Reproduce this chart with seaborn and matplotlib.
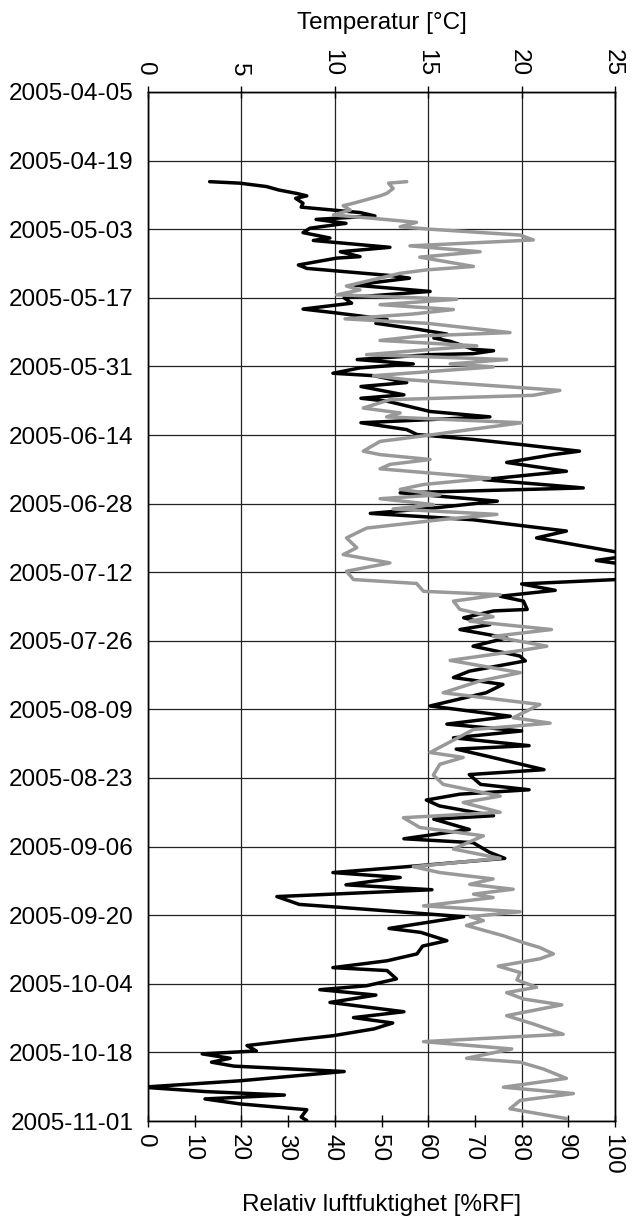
import numpy as np
import pandas as pd
import matplotlib
matplotlib.use("Agg")
import matplotlib.pyplot as plt
import matplotlib.dates as mdates
from matplotlib.ticker import MultipleLocator
import seaborn as sns

# Period covered by the date axis
start = pd.Timestamp("2005-04-05")
end = pd.Timestamp("2005-11-01")

# Temperature series: days after 2005-04-05 and temperature in degrees C
temp_day = [18.3, 18.6, 19.3, 20.0, 20.7, 21.2, 21.7, 22.7, 23.5, 24.1, 24.6, 25.3,
            26.0, 26.8, 27.8, 28.7, 29.8, 30.3, 31.7, 32.6, 33.6, 33.9, 35.3, 36.0,
            37.5, 38.0, 39.4, 40.7, 42.0, 43.1, 44.3, 45.1, 45.7, 46.4, 47.2, 48.4,
            49.4, 50.2, 50.9, 52.5, 52.8, 53.4, 53.6, 54.6, 55.5, 56.3, 57.4, 57.9,
            59.3, 60.1, 61.8, 62.5, 63.1, 65.2, 66.3, 67.5, 68.9, 69.9, 70.9, 72.0,
            73.3, 74.0, 75.6, 77.4, 79.1, 80.8, 81.8, 83.5, 84.9, 86.0, 87.3, 89.6,
            91.0, 94.5, 95.6, 96.8, 99.3, 100.4, 101.7, 102.9, 103.9, 105.6, 105.9,
            107.3, 108.7, 109.7, 111.4, 113.1, 115.1, 116.1, 118.2, 119.5, 120.9,
            122.6, 125.3, 127.4, 129.0, 130.4, 131.8, 133.4, 134.1, 135.5, 138.3,
            139.3, 141.3, 142.4, 143.3, 144.5, 145.7, 147.7, 148.4, 150.5, 152.4,
            153.2, 155.2, 156.4, 158.1, 159.3, 160.3, 161.8, 162.8, 164.2, 165.8,
            166.4, 168.3, 169.5, 170.7, 171.5, 173.2, 174.3, 175.9, 177.3, 178.7,
            179.3, 181.0, 182.4, 183.2, 184.3, 185.8, 187.7, 188.9, 190.0, 191.2,
            192.6, 193.4, 194.6, 195.7, 196.3, 197.2, 198.0, 198.8, 199.9, 201.8,
            203.1, 204.0, 204.7, 205.5, 206.5, 207.7, 209.2, 209.9]
temp_c = [3.3, 4.9, 6.35, 7.0, 7.96, 8.5, 7.9, 8.3, 8.2, 9.9, 11.35, 12.15,
          9.0, 10.6, 8.67, 8.3, 9.74, 8.85, 12.95, 10.3, 11.35, 10.1, 8.05, 8.5,
          13.1, 14.0, 11.0, 15.1, 10.5, 10.9, 8.3, 10.1, 11.35, 12.8, 12.2, 14.4,
          16.0, 15.3, 16.2, 17.4, 18.5, 17.4, 15.1, 11.2, 14.2, 11.35, 9.9, 12.1,
          13.85, 11.4, 13.7, 11.4, 12.8, 15.1, 18.3, 11.4, 13.85, 14.4, 17.4, 20.1,
          23.1, 21.7, 19.2, 22.4, 17.95, 23.3, 13.5, 18.7, 15.3, 11.9, 17.4, 22.4,
          20.8, 26.0, 24.0, 26.2, 26.2, 20.0, 21.8, 18.85, 20.1, 20.3, 18.5,
          16.9, 18.3, 16.7, 19.2, 17.4, 19.9, 20.2, 17.2, 16.35, 19.0,
          18.1, 15.1, 19.4, 16.0, 20.0, 16.35, 20.4, 16.5, 18.1, 21.2,
          17.2, 17.8, 20.4, 16.7, 14.9, 15.6, 18.5, 15.3, 17.2, 13.7,
          17.4, 18.3, 19.1, 13.85, 9.9, 13.5, 10.6, 15.2, 6.9, 8.1,
          10.3, 16.9, 14.9, 12.9, 14.6, 16.0, 14.7, 14.4, 12.8, 9.9,
          12.8, 13.3, 11.7, 9.2, 12.2, 9.74, 13.7, 11.0, 13.1, 12.1,
          9.9, 8.0, 5.3, 5.8, 2.9, 4.4, 3.4, 4.6, 10.5, 4.9,
          -0.3, 3.1, 7.3, 3.05, 4.9, 8.5, 8.2, 8.5]

# Relative humidity series: days after 2005-04-05 and %RF
rh_day = [18.3, 18.6, 19.7, 20.7, 21.2, 22.7, 23.2, 24.1, 25.1, 25.8, 26.6, 27.5,
          28.0, 29.2, 30.2, 31.4, 32.6, 33.7, 35.6, 36.3, 37.0, 39.6, 40.4, 41.4,
          42.3, 43.4, 44.4, 45.3, 46.3, 47.2, 49.1, 49.8, 50.7, 51.8, 53.6, 54.6,
          55.5, 56.1, 57.9, 58.7, 60.9, 61.9, 62.8, 64.5, 65.5, 66.3, 67.5, 68.8,
          70.1, 71.3, 73.3, 74.0, 75.0, 76.0, 76.9, 78.8, 80.1, 81.1, 82.2, 83.0,
          84.2, 85.1, 86.2, 87.3, 89.0, 91.0, 93.0, 94.4, 96.1, 97.8, 99.5, 100.3,
          101.9, 102.6, 103.9, 105.6, 107.1, 108.0, 109.7, 111.1, 113.1, 114.0,
          116.0, 118.5, 120.2, 122.6, 125.0, 127.7, 128.8, 130.1, 133.4, 134.8,
          135.8, 137.2, 139.4, 141.3, 143.7, 145.0, 147.0, 148.1, 150.1, 151.8,
          154.5, 156.4, 158.1, 159.3, 160.6, 161.7, 162.7, 163.7, 164.4, 166.1,
          167.3, 168.3, 169.1, 170.1, 172.2, 173.6, 174.6, 175.9, 176.9, 178.4,
          179.7, 181.2, 182.7, 183.8, 185.1, 186.3, 188.5, 190.2, 192.3, 193.8,
          195.3, 197.2, 198.0, 199.4, 201.3, 203.1, 204.4, 205.8, 207.5, 209.5]
rh_pct = [55.4, 51.5, 52.5, 51.1, 49.7, 44.0, 41.8, 43.3, 39.7, 48.3, 57.5, 54.0,
          60.4, 79.7, 82.5, 56.1, 71.1, 58.2, 69.7, 59.7, 54.0, 42.5, 45.4, 40.4,
          66.1, 49.7, 65.4, 56.8, 42.2, 59.7, 77.5, 58.2, 49.7, 70.4, 46.8, 76.8,
          64.7, 73.9, 48.3, 55.4, 88.2, 82.5, 51.8, 46.1, 54.0, 51.1, 80.0, 69.7,
          59.7, 49.7, 46.1, 49.7, 60.4, 51.8, 49.7, 73.2, 59.0, 54.0, 62.5, 49.7,
          61.1, 52.5, 74.7, 62.5, 46.8, 42.5, 44.7, 41.8, 51.8, 42.5, 44.0, 57.5,
          59.0, 75.4, 65.4, 66.8, 73.9, 68.9, 86.4, 73.9, 85.4, 79.7,
          64.7, 79.7, 71.1, 63.2, 83.9, 78.2, 86.1, 69.7, 63.2, 60.4,
          67.5, 62.5, 61.1, 63.2, 75.4, 67.5, 75.4, 54.7, 58.2, 71.8,
          65.4, 75.4, 56.8, 62.5, 73.9, 68.9, 78.2, 69.7, 73.9, 59.0,
          79.7, 69.0, 71.8, 68.2, 76.1, 80.4, 83.9, 86.8, 83.9, 75.0,
          79.7, 79.0, 83.2, 76.8, 80.4, 88.6, 76.8, 82.5, 88.9, 59.0,
          77.9, 68.2, 79.7, 84.7, 89.6, 76.1, 91.1, 79.7, 77.5, 89.6]

temp_df = pd.DataFrame({"time": start + pd.to_timedelta(temp_day, unit="D"),
                        "temp": temp_c})
rh_df = pd.DataFrame({"time": start + pd.to_timedelta(rh_day, unit="D"),
                      "rh": rh_pct})

sns.set_style("white")
plt.rcParams["font.family"] = ["Liberation Sans", "DejaVu Sans"]
plt.rcParams["font.size"] = 17.5
plt.rcParams["text.color"] = "black"
plt.rcParams["axes.labelcolor"] = "black"
plt.rcParams["xtick.color"] = "black"
plt.rcParams["ytick.color"] = "black"

fig = plt.figure(figsize=(6.36, 12.22), dpi=100)
ax = fig.add_axes([148 / 636, 1 - 1121 / 1222, (615 - 148) / 636, (1121 - 92) / 1222])

# Temperature against the top axis
sns.lineplot(data=temp_df, x="temp", y="time", orient="y", sort=False,
             estimator=None, color="black", linewidth=2.5, ax=ax)
ax.set_xlim(0, 25)
ax.xaxis.set_major_locator(MultipleLocator(5))
ax.set_ylabel("")

# Date axis, increasing downwards
ax.set_ylim(end, start)
ax.set_yticks(pd.date_range(start, end, freq="14D"))
ax.yaxis.set_major_formatter(mdates.DateFormatter("%Y-%m-%d"))

ax.grid(True, color="#222222", linewidth=0.9)
ax.set_axisbelow(True)

# Relative humidity against the bottom axis
ax2 = ax.twiny()
sns.lineplot(data=rh_df, x="rh", y="time", orient="y", sort=False,
             estimator=None, color="#999999", linewidth=2.5, ax=ax2)
ax2.set_xlim(0, 100)
ax2.xaxis.set_major_locator(MultipleLocator(10))
ax2.set_ylabel("")
ax2.grid(False)
ax2.set_ylim(end, start)

# Put temperature on top and humidity at the bottom
ax.xaxis.tick_top()
ax.xaxis.set_label_position("top")
ax2.xaxis.tick_bottom()
ax2.xaxis.set_label_position("bottom")
ax.set_xlabel("Temperatur [°C]", labelpad=14)
ax2.set_xlabel("Relativ luftfuktighet [%RF]", labelpad=14)

for a in (ax, ax2):
    for s in a.spines.values():
        s.set_visible(True)
        s.set_color("black")
        s.set_linewidth(1.0)

ax.tick_params(axis="x", direction="inout", length=9, width=1, pad=7,
               colors="black",
               top=True, labeltop=True, bottom=False, labelbottom=False)
ax.tick_params(axis="y", direction="inout", length=9, width=1, pad=6,
               colors="black")
ax2.tick_params(axis="x", direction="inout", length=9, width=1, pad=5,
                colors="black",
                bottom=True, labelbottom=True, top=False, labeltop=False)

# Vertical tick labels, centred on their ticks
for lab in ax.get_xticklabels():
    lab.set_rotation(270)
    lab.set_rotation_mode("anchor")
    lab.set_ha("right")
    lab.set_va("center_baseline")
for lab in ax2.get_xticklabels():
    lab.set_rotation(270)
    lab.set_rotation_mode("anchor")
    lab.set_ha("left")
    lab.set_va("center_baseline")

fig.savefig("out.png", dpi=100)
